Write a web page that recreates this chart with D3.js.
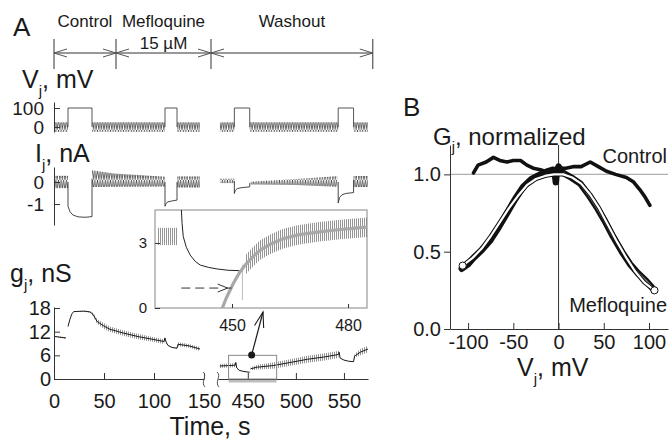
<!DOCTYPE html>
<html>
<head>
<meta charset="utf-8">
<script src="https://cdn.jsdelivr.net/npm/d3@7"></script>
<style>
  body { margin: 0; background: #fff; }
  svg { font-family: "Liberation Sans", Arial, sans-serif; }
</style>
</head>
<body>
<script>
// ---- data ----
// experiment phases (time, s) and their labels
var phaseLabels = ["Control", "Mefloquine", "Washout"];
var phaseBounds = [0, 62, 157, 580];

// Vj: oscillating test pulses (bands) and the long 100 mV pulses
var vjOscHalf = 25;
var vjBands = [[1, 14], [38, 111], [123, 146], [421, 436], [452, 544], [560, 575]];
var vjPulses = [[14, 38], [111, 123], [436, 452], [544, 560]];
var vjPulseAmp = 100;

// Ij: bands as [t, centre, half-amplitude], pulse responses as [t, nA]
var ijBands = [
  [[1, 0, 0.28], [14, 0, 0.28]],
  [[38, 0.15, 0.38], [60, 0.08, 0.3], [111, 0.02, 0.22]],
  [[123, 0, 0.25], [146, 0, 0.25]],
  [[421, 0.05, 0.1], [436, 0.05, 0.1]],
  [[453, -0.05, 0.06], [500, 0, 0.14], [543, 0.02, 0.24]],
  [[560, 0.02, 0.25], [575, 0.02, 0.25]]
];
var ijPulses = [
  [[14, 0], [14, -1.1], [16, -1.35], [19, -1.5], [24, -1.58], [31, -1.6], [38, -1.57], [38, 0.15]],
  [[111, 0], [111, -1.1], [112, -0.98], [114, -0.9], [118, -0.86], [123, -0.82], [123, 0]],
  [[436, 0.05], [436, -0.52], [437, -0.38], [439, -0.3], [443, -0.26], [452, -0.22], [452, -0.05]],
  [[544, 0], [544, -0.95], [545.5, -0.7], [548, -0.58], [552, -0.52], [560, -0.48], [560, 0.1]]
];

// gj traces: [t, nS, noise half-amplitude]
var gjTraces = [
  [[0, 10.8, 0], [6, 10.6, 0.2], [12, 10.4, 0.2]],
  [[14, 13.3, 0], [16, 15.2, 0], [18, 16.6, 0], [20, 17.1, 0.1], [30, 17.2, 0.1], [36, 17.0, 0.2],
   [39, 16.4, 0.4], [43, 14.6, 0.6], [50, 13.4, 0.7], [56, 12.6, 0.7], [70, 11.6, 0.7], [85, 10.7, 0.7],
   [100, 10.0, 0.6], [110, 9.5, 0.6], [111, 10.4, 0.3], [112, 9.4, 0.2], [114, 8.5, 0.1], [118, 8.0, 0.1],
   [123, 7.8, 0.1], [124, 8.8, 0.5], [135, 8.4, 0.5], [146, 7.6, 0.5]],
  [[421, 3.3, 0.5], [430, 3.4, 0.5], [437, 3.5, 0.5], [437.5, 4.2, 0], [438.5, 2.8, 0], [441, 2.2, 0],
   [446, 1.9, 0], [452, 1.7, 0]],
  [[453, 2.6, 0.4], [460, 3.0, 0.6], [476, 3.4, 0.8], [490, 4.0, 0.8], [512, 5.0, 0.9], [530, 5.6, 0.9],
   [544, 6.2, 0.9], [545, 6.8, 0.3], [546, 5.3, 0], [550, 4.8, 0], [555, 4.5, 0], [560, 4.4, 0],
   [561, 5.8, 0.5], [567, 6.8, 0.8], [575, 7.6, 0.8]]
];
var timeTicks1 = [0, 50, 100, 150];
var timeTicks2 = [450, 500, 550];
var gjTicks = [0, 6, 12, 18];

// inset (zoom of the washout onset)
var zoomBox = [430, 480, 0, 6];
var zoomDot = [454, 6.1];
var insetPre = [[430.7, 3.3, 0.4], [436, 3.3, 0.4]];
var insetDecay = [[436.9, 4.6], [437.1, 3.9], [437.4, 3.3], [438.2, 2.8], [439.2, 2.44], [440.5, 2.15],
  [441.8, 1.98], [444, 1.87], [446.2, 1.8], [449, 1.74], [452.2, 1.72], [452.9, 1.78]];
var insetFit = [[447.5, 0], [448.5, 0.45], [450.4, 1.15], [452, 1.65], [453.5, 2.0], [455.5, 2.38],
  [457.3, 2.67], [460, 2.95], [463.3, 3.2], [467, 3.37], [472.1, 3.5], [478, 3.62], [485, 3.73]];
var insetNoiseHalf = 0.45;
var insetSpike = [[452.7, 0.37], [452.7, 2.0]];
var insetArrow = [436.9, 449.4, 0.92];
var insetXTicks = [450, 480];
var insetYTicks = [0, 3];

// panel B: normalized Gj vs Vj
var controlGj = [[-94, 1.01], [-89, 1.06], [-80, 1.08], [-72, 1.11], [-65, 1.09], [-57, 1.08], [-50, 1.09],
  [-42, 1.09], [-35, 1.06], [-28, 1.04], [-20, 1.03], [-13, 1.015], [-6, 1.02], [0, 1.04], [8, 1.04],
  [16, 1.05], [25, 1.05], [35, 1.08], [44, 1.05], [53, 1.02], [63, 1.0], [75, 0.98], [83, 0.95],
  [90, 0.9], [96, 0.85], [101, 0.8]];
var mefloGj = [[-107, 0.39], [-100, 0.42], [-94, 0.46], [-85, 0.51], [-76, 0.57], [-66, 0.66], [-57, 0.75],
  [-48, 0.84], [-39, 0.92], [-30, 0.97], [-20, 1.0], [-12, 1.02], [-6, 1.03], [-4, 1.0], [-3, 0.95],
  [-2, 1.02], [0, 1.05], [5, 1.01], [14, 0.98], [24, 0.94], [33, 0.87], [42, 0.79], [51, 0.7], [60, 0.6],
  [70, 0.5], [79, 0.42], [88, 0.36], [97, 0.31], [106, 0.25]];
var mefloFit = [[-106, 0.41], [-95, 0.46], [-85, 0.52], [-75, 0.6], [-65, 0.69], [-55, 0.78], [-45, 0.86],
  [-35, 0.93], [-25, 0.97], [-15, 0.99], [-5, 1.0], [5, 1.0], [15, 0.98], [25, 0.94], [35, 0.87],
  [45, 0.78], [55, 0.67], [65, 0.56], [75, 0.46], [85, 0.37], [95, 0.3], [106, 0.25]];
var vjTicksB = [-100, -50, 0, 50, 100];
var gTicksB = [0, 0.5, 1.0];

// ---- drawing ----
var ink = "#1a1a1a";
var plain = function(d) { return String(d); };   // keeps an ASCII hyphen for negatives
var svg = d3.select("body").append("svg")
  .attr("width", 670)
  .attr("height", 441);

var defs = svg.append("defs");
defs.append("pattern").attr("id", "zig")
  .attr("patternUnits", "userSpaceOnUse").attr("width", 2.6).attr("height", 10)
  .append("path").attr("d", "M0,10L1.3,0L2.6,10").attr("fill", "none")
  .attr("stroke", "#3c3c3c").attr("stroke-width", 0.8);
defs.append("pattern").attr("id", "spk")
  .attr("patternUnits", "userSpaceOnUse").attr("width", 2).attr("height", 4)
  .append("path").attr("d", "M0.5,0V4").attr("stroke", "#7a7a7a").attr("stroke-width", 0.8);

// time scale of panel A, broken between 150 and 419 s
var xA1 = d3.scaleLinear().domain([0, 150]).range([54, 204]);
var xA2 = d3.scaleLinear().domain([419, 575]).range([218, 368]);
var xT = function(t) { return t < 300 ? xA1(t) : xA2(t); };

var yV = d3.scaleLinear().domain([-26, 131.6]).range([132, 102]);
var yI = d3.scaleLinear().domain([-1.95, 0.68]).range([225, 167]);
var yG = d3.scaleLinear().domain([0, 18.25]).range([379, 307]);

function bandPath(g, data, x, y, fill) {
  g.append("path").datum(data)
    .attr("d", d3.area().x(d => x(d[0])).y0(d => y(d[1] - d[2])).y1(d => y(d[1] + d[2])))
    .attr("fill", fill);
}
function tracePath(g, data, x, y, color, width) {
  return g.append("path").datum(data)
    .attr("d", d3.line().x(d => x(d[0])).y(d => y(d[1])))
    .attr("fill", "none").attr("stroke", color).attr("stroke-width", width)
    .attr("stroke-linejoin", "round");
}
function styleAxis(g, size) {
  g.attr("font-family", "Liberation Sans, Arial, sans-serif");
  g.selectAll("path, line").attr("stroke", "#333");
  g.selectAll("text").attr("font-size", size).attr("fill", ink);
}
function subLabel(x, y, main, sub, rest, size) {
  var t = svg.append("text").attr("x", x).attr("y", y).attr("font-size", size).attr("fill", ink);
  t.append("tspan").text(main);
  t.append("tspan").attr("dy", size * 0.3).attr("font-size", size * 0.6).text(sub);
  t.append("tspan").attr("dy", -size * 0.3).text(rest);
}

// panel letters
svg.append("text").attr("x", 13).attr("y", 36).attr("font-size", 26).attr("fill", ink).text("A");
svg.append("text").attr("x", 403).attr("y", 116).attr("font-size", 26).attr("fill", ink).text("B");

// phase bar at the top
var phaseG = svg.append("g");
phaseBounds.forEach(function(t) {
  phaseG.append("line").attr("x1", xT(t)).attr("x2", xT(t)).attr("y1", 39).attr("y2", 69)
    .attr("stroke", "#333");
});
phaseLabels.forEach(function(name, i) {
  var a = xT(phaseBounds[i]), b = xT(phaseBounds[i + 1]);
  phaseG.append("line").attr("x1", a).attr("x2", b).attr("y1", 53).attr("y2", 53).attr("stroke", "#333");
  phaseG.append("path").attr("d", `M${a + 13},49L${a},53L${a + 13},57M${b - 13},49L${b},53L${b - 13},57`)
    .attr("fill", "none").attr("stroke", "#555");
  phaseG.append("text").attr("x", (a + b) / 2).attr("y", 27).attr("text-anchor", "middle")
    .attr("font-size", 17).attr("fill", ink).text(name);
});
phaseG.append("text").attr("x", (xT(phaseBounds[1]) + xT(phaseBounds[2])) / 2).attr("y", 49)
  .attr("text-anchor", "middle").attr("font-size", 17).attr("fill", ink).text("15 \u00b5M");

// Vj
subLabel(22, 88, "V", "j", ", mV", 25);
var vjG = svg.append("g");
vjBands.forEach(function(b) {
  bandPath(vjG, [[b[0], 0, vjOscHalf], [b[1], 0, vjOscHalf]], xT, yV, "url(#zig)");
});
vjPulses.forEach(function(p) {
  tracePath(vjG, [[p[0], 0], [p[0], vjPulseAmp], [p[1], vjPulseAmp], [p[1], 0]], xT, yV, "#444", 0.9);
});
var vjAxis = svg.append("g").attr("transform", "translate(54,0)")
  .call(d3.axisLeft(yV).tickValues([0, 100]).tickFormat(plain).tickSizeInner(-6).tickSizeOuter(0).tickPadding(10));
styleAxis(vjAxis, 19);

// Ij
subLabel(35, 162, "I", "j", ", nA", 25);
var ijG = svg.append("g");
ijBands.forEach(function(b) { bandPath(ijG, b, xT, yI, "url(#zig)"); });
ijPulses.forEach(function(p) { tracePath(ijG, p, xT, yI, "#333", 0.9); });
var ijAxis = svg.append("g").attr("transform", "translate(54,0)")
  .call(d3.axisLeft(yI).tickValues([-1, 0]).tickFormat(plain).tickSizeInner(-6).tickSizeOuter(0).tickPadding(10));
styleAxis(ijAxis, 19);

// gj
subLabel(10, 282, "g", "j", ", nS", 25);
var gjG = svg.append("g");
gjTraces.forEach(function(tr) {
  bandPath(gjG, tr, xT, yG, "url(#spk)");
  tracePath(gjG, tr, xT, yG, ink, 1);
});
var gjAxis = svg.append("g").attr("transform", "translate(54,0)")
  .call(d3.axisLeft(yG).tickValues(gjTicks).tickFormat(plain).tickSizeInner(-6).tickSizeOuter(0).tickPadding(3));
styleAxis(gjAxis, 20);

// gray bar marking the zoomed interval, then the broken time axis
svg.append("rect").attr("x", xT(zoomBox[0])).attr("y", 379.5)
  .attr("width", xT(zoomBox[1]) - xT(zoomBox[0])).attr("height", 3).attr("fill", "#bdbdbd");
var xAxis1 = svg.append("g").attr("transform", "translate(0,379)")
  .call(d3.axisBottom(xA1).tickValues(timeTicks1).tickFormat(plain).tickSizeInner(-6).tickSizeOuter(0).tickPadding(15));
styleAxis(xAxis1, 20);
var xAxis2 = svg.append("g").attr("transform", "translate(0,379)")
  .call(d3.axisBottom(xA2).tickValues(timeTicks2).tickFormat(plain).tickSizeInner(-6).tickSizeOuter(0).tickPadding(15));
styleAxis(xAxis2, 20);
[xA1.range()[1], xA2.range()[0]].forEach(function(x) {
  svg.append("path").attr("d", `M${x - 1},372C${x + 4},376 ${x - 4},382 ${x + 1},387`)
    .attr("fill", "none").attr("stroke", "#555").attr("stroke-width", 1);
});
svg.append("text").attr("x", 210).attr("y", 435).attr("text-anchor", "middle")
  .attr("font-size", 25).attr("fill", ink).text("Time, s");

// box around the zoomed region
svg.append("rect").attr("x", xT(zoomBox[0])).attr("y", yG(zoomBox[3]))
  .attr("width", xT(zoomBox[1]) - xT(zoomBox[0])).attr("height", yG(zoomBox[2]) - yG(zoomBox[3]))
  .attr("fill", "none").attr("stroke", "#8a8a8a").attr("stroke-width", 1);

// inset
var xIn = d3.scaleLinear().domain([430.1, 484.9]).range([155, 367]);
var yIn = d3.scaleLinear().domain([0, 4.52]).range([308, 210]);
defs.append("clipPath").attr("id", "insetClip").append("rect")
  .attr("x", 155).attr("y", 210).attr("width", 212).attr("height", 98);
svg.append("rect").attr("x", 155).attr("y", 210).attr("width", 212).attr("height", 98)
  .attr("fill", "#fff").attr("stroke", "#9a9a9a").attr("stroke-width", 1.2);
var inG = svg.append("g").attr("clip-path", "url(#insetClip)");
bandPath(inG, insetPre, xIn, yIn, "url(#spk)");
bandPath(inG, insetFit.filter(d => d[0] >= 453).map(d => [d[0], d[1], insetNoiseHalf]), xIn, yIn, "url(#spk)");
tracePath(inG, insetSpike, xIn, yIn, "#aaa", 0.8);
tracePath(inG, insetDecay, xIn, yIn, "#222", 1);
tracePath(inG, insetFit, xIn, yIn, "#a8a8a8", 3.2).attr("stroke-linecap", "round");
inG.append("line").attr("x1", xIn(insetArrow[0])).attr("x2", xIn(insetArrow[1]) - 8)
  .attr("y1", yIn(insetArrow[2])).attr("y2", yIn(insetArrow[2]))
  .attr("stroke", "#333").attr("stroke-dasharray", "9,5");
var ax = xIn(insetArrow[1]), ay = yIn(insetArrow[2]);
inG.append("path").attr("d", `M${ax - 12},${ay - 4}L${ax - 2},${ay}L${ax - 12},${ay + 4}M${ax - 4},${ay}H${ax + 2}`)
  .attr("fill", "none").attr("stroke", "#333");
var inYAxis = svg.append("g").attr("transform", "translate(155,0)")
  .call(d3.axisLeft(yIn).tickValues(insetYTicks).tickFormat(plain).tickSizeInner(-5).tickSizeOuter(0).tickPadding(8));
inYAxis.select(".domain").remove();
styleAxis(inYAxis, 15);
var inXAxis = svg.append("g").attr("transform", "translate(0,308)")
  .call(d3.axisBottom(xIn).tickValues(insetXTicks).tickFormat(plain).tickSizeInner(-4).tickSizeOuter(0).tickPadding(12));
inXAxis.select(".domain").remove();
styleAxis(inXAxis, 16);

// pointer from the dot to the inset
var dx = xT(zoomDot[0]), dy = yG(zoomDot[1]);
var tipX = 263, tipY = 312;
svg.append("line").attr("x1", dx).attr("y1", dy).attr("x2", tipX).attr("y2", tipY)
  .attr("stroke", ink).attr("stroke-width", 1.2);
var ang = Math.atan2(dy - tipY, dx - tipX);
var h1 = [tipX + 16 * Math.cos(ang + 0.3), tipY + 16 * Math.sin(ang + 0.3)];
var h2 = [tipX + 16 * Math.cos(ang - 0.3), tipY + 16 * Math.sin(ang - 0.3)];
svg.append("path").attr("d", `M${h1[0]},${h1[1]}L${tipX},${tipY}L${h2[0]},${h2[1]}`)
  .attr("fill", "none").attr("stroke", ink).attr("stroke-width", 1.1);
svg.append("circle").attr("cx", dx).attr("cy", dy).attr("r", 3.5).attr("fill", ink);

// ---- panel B ----
var xB = d3.scaleLinear().domain([-120, 121]).range([450, 668]);
var yB = d3.scaleLinear().domain([0, 1.19]).range([329, 145]);
var bG = svg.append("g");
bG.append("line").attr("x1", 450).attr("x2", 668).attr("y1", yB(1)).attr("y2", yB(1))
  .attr("stroke", "#b0b0b0").attr("stroke-width", 1.2);
bG.append("line").attr("x1", xB(0)).attr("x2", xB(0)).attr("y1", 145).attr("y2", 329)
  .attr("stroke", "#333").attr("stroke-width", 1);

tracePath(bG, controlGj, xB, yB, "#111", 3.6).attr("stroke-linecap", "round");
tracePath(bG, mefloGj, xB, yB, "#111", 6.5).attr("stroke-linecap", "round");
tracePath(bG, mefloGj.filter(d => d[0] >= 5), xB, yB, "#7a7a7a", 2.2);
tracePath(bG, mefloFit, xB, yB, "#111", 4.2).attr("stroke-linecap", "round");
tracePath(bG, mefloFit, xB, yB, "#fff", 2.2).attr("stroke-linecap", "round");
[mefloFit[0], mefloFit[mefloFit.length - 1]].forEach(function(d) {
  bG.append("circle").attr("cx", xB(d[0])).attr("cy", yB(d[1])).attr("r", 3.6)
    .attr("fill", "#fff").attr("stroke", "#111").attr("stroke-width", 1);
});

var yAxisB = svg.append("g").attr("transform", "translate(450,0)")
  .call(d3.axisLeft(yB).tickValues(gTicksB).tickFormat(d3.format(".1f")).tickSizeInner(6).tickSizeOuter(0).tickPadding(3));
styleAxis(yAxisB, 20);
var xAxisB = svg.append("g").attr("transform", "translate(0,329)")
  .call(d3.axisBottom(xB).tickValues(vjTicksB).tickFormat(plain).tickSizeInner(-6).tickSizeOuter(0).tickPadding(6));
styleAxis(xAxisB, 20);

subLabel(433, 145, "G", "j", ", normalized", 24);
subLabel(517, 376, "V", "j", ", mV", 25);
svg.append("text").attr("x", 667).attr("y", 163).attr("text-anchor", "end")
  .attr("font-size", 20).attr("fill", ink).text("Control");
svg.append("text").attr("x", 667).attr("y", 312).attr("text-anchor", "end")
  .attr("font-size", 20).attr("fill", ink).text("Mefloquine");
</script>
</body>
</html>
